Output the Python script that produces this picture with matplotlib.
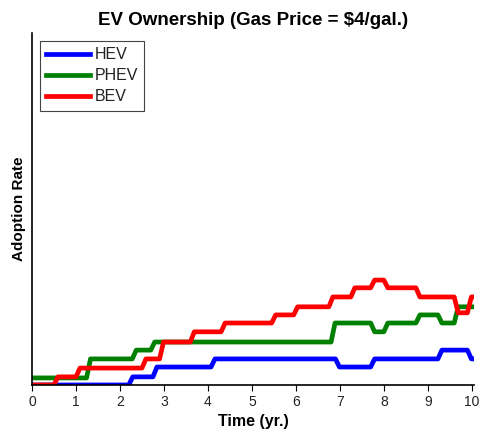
import matplotlib
matplotlib.use("Agg")
import matplotlib.pyplot as plt

plt.rcParams['font.family'] = ['Liberation Sans', 'DejaVu Sans']

# step times (yr.) and levels (adoption rate, arbitrary units 0-100)
hev_t = [0, 2.2, 2.75, 4.07, 6.9, 7.7, 9.23, 9.9]
hev_v = [0, 2.3, 5.1, 7.4, 5.1, 7.4, 9.9, 7.4]

phev_t = [0, 1.24, 2.28, 2.7, 6.8, 7.7, 8.0, 8.73, 9.23, 9.6]
phev_v = [2.0, 7.4, 9.9, 12.2, 17.6, 15.1, 17.6, 19.9, 17.6, 22.2]

bev_t = [0, 0.5, 1.0, 2.5, 2.9, 3.6, 4.3, 5.45, 5.95, 6.75, 7.25, 7.7, 8.0, 8.73, 9.6, 9.9]
bev_v = [0, 2.3, 4.8, 7.4, 12.2, 15.1, 17.6, 19.9, 22.2, 25.0, 27.6, 29.8, 27.6, 25.0, 20.5, 25.0]

t_end = 10.05
ramp = 0.09


def ramped(ts, vs):
    xs, ys = [ts[0]], [vs[0]]
    for i in range(1, len(ts)):
        xs += [ts[i], ts[i] + ramp]
        ys += [vs[i - 1], vs[i]]
    xs.append(t_end)
    ys.append(vs[-1])
    return xs, ys


fig = plt.figure(figsize=(4.8, 4.34), dpi=100)
ax = fig.add_axes([0.0667, 0.113, 0.9208, 0.811])

for ts, vs, c, name in [(hev_t, hev_v, '#0000ff', 'HEV'),
                        (phev_t, phev_v, '#008000', 'PHEV'),
                        (bev_t, bev_v, '#ff0000', 'BEV')]:
    x, y = ramped(ts, vs)
    ax.plot(x, y, color=c, lw=3.4, label=name, solid_joinstyle='round')

ax.set_xlim(0, t_end)
ax.set_ylim(0, 100)
ax.set_xticks(range(0, 11))
ax.set_yticks([])
ax.tick_params(axis='x', direction='out', length=4, labelsize=10, pad=3,
               labelcolor='#222222')
for s in ['top', 'right']:
    ax.spines[s].set_visible(False)
ax.spines['left'].set_linewidth(1.2)
ax.spines['bottom'].set_linewidth(1.2)

ax.set_title('EV Ownership (Gas Price = $4/gal.)', fontsize=13.5, fontweight='bold', pad=6)
ax.set_xlabel('Time (yr.)', fontsize=11.5, fontweight='bold', labelpad=4)
ax.set_ylabel('Adoption Rate', fontsize=11, fontweight='bold', labelpad=4)

leg = ax.legend(loc='upper left', fontsize=11.5, fancybox=False, edgecolor='#444444',
                framealpha=1, handlelength=2.7, handletextpad=0.3, borderpad=0.4,
                labelspacing=0.38, borderaxespad=0.5)
leg.get_frame().set_linewidth(0.8)
for t in leg.get_texts():
    t.set_color('#222222')

fig.savefig('out.png', dpi=100)
